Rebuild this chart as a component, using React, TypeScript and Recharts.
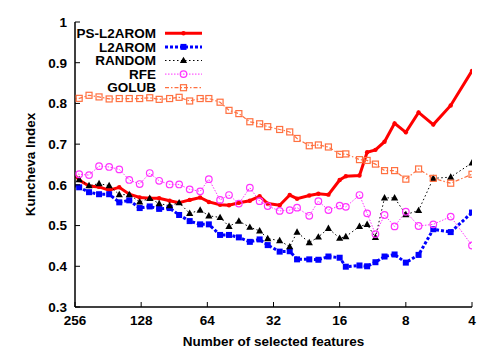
import React from 'react';
import { LineChart, Line, XAxis, YAxis, Legend } from 'recharts';

// Number of selected features (first value lies just outside the plotted range, line gets clipped)
const features = [272, 245, 221, 199, 179, 161, 145, 130, 117, 106, 95, 86, 77, 69, 63, 56, 51, 46, 41, 37, 34, 30, 27, 25, 22, 20, 18, 16, 15, 13, 12, 11, 10, 9, 8, 7, 6, 5, 4];

const psL2arom = [0.64, 0.612, 0.597, 0.595, 0.587, 0.594, 0.577, 0.569, 0.567, 0.567, 0.561, 0.556, 0.563, 0.569, 0.558, 0.551, 0.550, 0.556, 0.561, 0.572, 0.554, 0.550, 0.575, 0.566, 0.574, 0.578, 0.576, 0.612, 0.621, 0.623, 0.680, 0.686, 0.706, 0.751, 0.729, 0.778, 0.748, 0.795, 0.880];
const l2arom = [0.603, 0.594, 0.582, 0.577, 0.577, 0.557, 0.562, 0.543, 0.547, 0.541, 0.543, 0.526, 0.511, 0.503, 0.503, 0.477, 0.477, 0.471, 0.460, 0.466, 0.452, 0.436, 0.437, 0.417, 0.417, 0.416, 0.424, 0.421, 0.399, 0.402, 0.400, 0.410, 0.424, 0.429, 0.409, 0.428, 0.491, 0.484, 0.532];
const randomSel = [0.62, 0.613, 0.598, 0.603, 0.598, 0.576, 0.576, 0.558, 0.567, 0.554, 0.549, 0.556, 0.530, 0.538, 0.524, 0.520, 0.498, 0.511, 0.496, 0.487, 0.468, 0.463, 0.448, 0.484, 0.458, 0.472, 0.493, 0.469, 0.473, 0.498, 0.503, 0.471, 0.568, 0.568, 0.527, 0.537, 0.616, 0.619, 0.654];
const rfe = [0.63, 0.626, 0.624, 0.646, 0.644, 0.638, 0.612, 0.602, 0.629, 0.610, 0.601, 0.601, 0.589, 0.584, 0.614, 0.563, 0.575, 0.554, 0.593, 0.560, 0.548, 0.536, 0.538, 0.544, 0.524, 0.560, 0.538, 0.549, 0.546, 0.575, 0.530, 0.479, 0.526, 0.498, 0.534, 0.499, 0.503, 0.522, 0.451];
const golub = [0.81, 0.8125, 0.820, 0.816, 0.811, 0.812, 0.812, 0.812, 0.814, 0.810, 0.812, 0.815, 0.806, 0.812, 0.812, 0.803, 0.783, 0.775, 0.755, 0.750, 0.743, 0.736, 0.730, 0.714, 0.696, 0.698, 0.693, 0.675, 0.676, 0.662, 0.660, 0.651, 0.635, 0.635, 0.614, 0.639, 0.616, 0.604, 0.626];

const seriesKeys = ['ps', 'l2', 'rnd', 'rfe', 'golub'];
const seriesNames = ['PS-L2AROM', 'L2AROM', 'RANDOM', 'RFE', 'GOLUB'];
const xTicks = [256, 128, 64, 32, 16, 8, 4];
const yTicks = [0.3, 0.4, 0.5, 0.6, 0.7, 0.8, 0.9, 1];

const data = features.map((n, i) => ({
  n,
  ps: psL2arom[i],
  l2: l2arom[i],
  rnd: randomSel[i],
  rfe: rfe[i],
  golub: golub[i],
}));

const FONT = '"Liberation Sans", Arial, Helvetica, sans-serif';
const FS = 13.5;
const TICK_LEN = 5;
const Y_MARGIN = 8;
const X_MARGIN = 8.5;

type Style = { color: string; width: number; dash?: string; marker: string };
const STYLES: Record<string, Style> = {
  ps: { color: '#ff0000', width: 3, marker: 'dot' },
  l2: { color: '#0000ff', width: 3, dash: '3 2', marker: 'square' },
  rnd: { color: '#000000', width: 1, dash: '1.5 2.5', marker: 'triangle' },
  rfe: { color: '#ff33ff', width: 1, dash: '1.5 1.5', marker: 'circle' },
  golub: { color: '#ff7040', width: 1.2, dash: '4 2 1.5 2', marker: 'osquare' },
};

function Marker({ kind, cx, cy, color }: { kind: string; cx: number; cy: number; color: string }) {
  switch (kind) {
    case 'dot':
      return <circle cx={cx} cy={cy} r={2.2} fill={color} />;
    case 'square':
      return <rect x={cx - 3} y={cy - 3} width={6} height={6} fill={color} />;
    case 'triangle':
      return <polygon points={`${cx},${cy - 3.8} ${cx - 3.6},${cy + 2.6} ${cx + 3.6},${cy + 2.6}`} fill={color} />;
    case 'circle':
      return <circle cx={cx} cy={cy} r={3.3} fill="none" stroke={color} strokeWidth={1.2} />;
    case 'osquare':
      return <rect x={cx - 3} y={cy - 3} width={6} height={6} fill="none" stroke={color} strokeWidth={1.2} />;
    default:
      return null;
  }
}

const makeDot = (key: string) => (props: any) => {
  const { cx, cy, index } = props;
  const s = STYLES[key];
  if (cx == null || cy == null || isNaN(cx) || isNaN(cy)) return <g key={`e-${key}-${index}`} />;
  return (
    <g key={`m-${key}-${index}`}>
      <Marker kind={s.marker} cx={cx} cy={cy} color={s.color} />
    </g>
  );
};

const textStyle = { fontFamily: FONT, fontWeight: 'bold' as const, fontSize: FS, fill: '#000' };

const fmtY = (v: number) => String(Math.round(v * 10) / 10);

const LeftTick = (p: any) => (
  <g>
    <line x1={p.x + Y_MARGIN} x2={p.x + Y_MARGIN + TICK_LEN} y1={p.y} y2={p.y} stroke="#000" strokeWidth={1} />
    <text x={p.x} y={p.y} dy="0.355em" textAnchor="end" style={textStyle}>
      {fmtY(p.payload.value)}
    </text>
  </g>
);
const RightTick = (p: any) => (
  <line x1={p.x - TICK_LEN} x2={p.x} y1={p.y} y2={p.y} stroke="#000" strokeWidth={1} />
);
const BottomTick = (p: any) => (
  <g>
    <line x1={p.x} x2={p.x} y1={p.y - X_MARGIN} y2={p.y - X_MARGIN - TICK_LEN} stroke="#000" strokeWidth={1} />
    <text x={p.x} y={p.y} dy="0.71em" textAnchor="middle" style={textStyle}>
      {p.payload.value}
    </text>
  </g>
);
const TopTick = (p: any) => (
  <line x1={p.x} x2={p.x} y1={p.y} y2={p.y + TICK_LEN} stroke="#000" strokeWidth={1} />
);

const LegendContent = (props: any) => {
  const payload = [...(props.payload || [])].sort(
    (a: any, b: any) => seriesKeys.indexOf(a.dataKey) - seriesKeys.indexOf(b.dataKey)
  );
  return (
    <svg width={215} height={100} style={{ display: 'block' }}>
      {payload.map((p: any, i: number) => {
        const s = STYLES[p.dataKey];
        const y = 33.3 + i * 13.6;
        return (
          <g key={p.dataKey}>
            <text x={156} y={y} dy="0.355em" textAnchor="end" style={textStyle}>
              {p.value}
            </text>
            <line x1={165} x2={202} y1={y} y2={y} stroke={s.color} strokeWidth={s.width} strokeDasharray={s.dash} />
            <Marker kind={s.marker} cx={183.5} cy={y} color={s.color} />
          </g>
        );
      })}
    </svg>
  );
};

const axisLine = { stroke: '#000', strokeWidth: 1.5 };

export default function App() {
  return (
    <div style={{ position: 'absolute', left: 0, top: 0, width: 483, height: 350, background: '#fff' }}>
      <LineChart width={483} height={350} data={data} margin={{ top: 22, right: 11, bottom: 0, left: 0 }}>
        <XAxis
          dataKey="n"
          type="number"
          scale="log"
          domain={[4, 256]}
          reversed
          allowDataOverflow
          ticks={xTicks}
          interval={0}
          height={43}
          tickLine={false}
          tickSize={0}
          tickMargin={X_MARGIN}
          axisLine={axisLine}
          tick={BottomTick}
          label={{ value: 'Number of selected features', position: 'insideBottom', offset: 4, style: textStyle }}
        />
        <XAxis
          xAxisId="top"
          orientation="top"
          type="number"
          scale="log"
          domain={[4, 256]}
          reversed
          allowDataOverflow
          ticks={xTicks}
          interval={0}
          height={0}
          tickLine={false}
          tickSize={0}
          tickMargin={0}
          axisLine={axisLine}
          tick={TopTick}
        />
        <YAxis
          type="number"
          domain={[0.3, 1]}
          allowDataOverflow
          ticks={yTicks}
          interval={0}
          width={75}
          tickLine={false}
          tickSize={0}
          tickMargin={Y_MARGIN}
          axisLine={axisLine}
          tick={LeftTick}
          label={{
            value: 'Kuncheva Index',
            angle: -90,
            position: 'insideLeft',
            offset: 30,
            style: { ...textStyle, textAnchor: 'middle' },
          }}
        />
        <YAxis
          yAxisId="right"
          orientation="right"
          type="number"
          domain={[0.3, 1]}
          allowDataOverflow
          ticks={yTicks}
          interval={0}
          width={0}
          tickLine={false}
          tickSize={0}
          tickMargin={0}
          axisLine={axisLine}
          tick={RightTick}
        />
        <Legend
          layout="vertical"
          align="center"
          verticalAlign="middle"
          content={LegendContent}
          wrapperStyle={{ left: 0, top: 0, width: 215, height: 100 }}
        />
        {seriesKeys.map((k, i) => (
          <Line
            key={k}
            dataKey={k}
            name={seriesNames[i]}
            stroke={STYLES[k].color}
            strokeWidth={STYLES[k].width}
            strokeDasharray={STYLES[k].dash}
            dot={makeDot(k)}
            activeDot={false}
            isAnimationActive={false}
            type="linear"
            legendType="line"
          />
        ))}
      </LineChart>
    </div>
  );
}
